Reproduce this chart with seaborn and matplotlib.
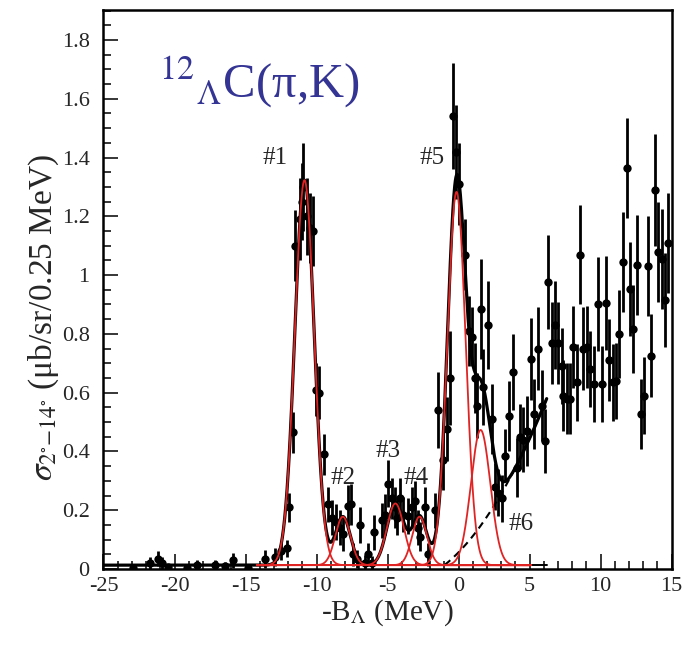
"""Hypernuclear binding-energy spectrum of 12C(pi+,K+) with its peak fit."""

from __future__ import annotations

import matplotlib

matplotlib.use("Agg")

import matplotlib.pyplot as plt
import numpy as np
import pandas as pd
import seaborn as sns
from matplotlib.ticker import FuncFormatter, MultipleLocator

# measured spectrum: -B_Lambda (MeV), cross section, error
BINDING_MEV = [
    -22.91, -21.73, -21.15, -20.91, -20.44, -19.15, -18.44, -17.15, -16.45, -15.87,
    -14.81, -13.63, -12.93, -12.50, -12.10, -11.92, -11.64, -11.52, -11.17, -11.05,
    -10.94, -10.70, -10.46, -10.27, -10.05, -9.83, -9.48, -9.18, -8.94, -8.63,
    -8.35, -8.12, -7.77, -7.60, -7.42, -7.13, -6.94, -6.59, -6.36, -6.12,
    -5.96, -5.42, -5.18, -4.95, -4.71, -4.48, -4.36, -4.13, -3.89, -3.54,
    -3.30, -3.07, -2.84, -2.72, -2.37, -2.13, -1.66, -1.43, -1.08, -0.84,
    -0.61, -0.42, -0.18, 0.05, 0.45, 0.75, 0.92, 1.15, 1.32, 1.58,
    1.74, 2.09, 2.33, 2.56, 2.80, 3.04, 3.27, 3.57, 3.81, 4.09,
    4.32, 4.56, 4.79, 5.10, 5.33, 5.57, 5.85, 6.08, 6.32, 6.60,
    6.79, 7.02, 7.26, 7.37, 7.61, 7.85, 8.08, 8.32, 8.55, 8.78,
    9.06, 9.25, 9.54, 9.80, 10.08, 10.36, 10.59, 10.85, 11.08, 11.32,
    11.56, 11.84, 12.07, 12.30, 12.54, 12.82, 13.06, 13.32, 13.55, 13.82,
    14.06, 14.30, 14.54, 14.77,
]
SIGMA = [
    0.005, 0.020, 0.035, 0.020, 0.006, 0.004, 0.015, 0.015, 0.010, 0.030,
    0.004, 0.035, 0.040, 0.060, 0.070, 0.210, 0.465, 1.100, 1.190, 1.250,
    1.300, 1.200, 1.160, 1.150, 0.610, 0.600, 0.390, 0.220, 0.175, 0.160,
    0.140, 0.120, 0.215, 0.220, 0.050, 0.033, 0.150, 0.022, 0.050, 0.020,
    0.125, 0.165, 0.185, 0.290, 0.240, 0.210, 0.175, 0.240, 0.185, 0.180,
    0.210, 0.230, 0.140, 0.110, 0.210, 0.050, 0.200, 0.540, 0.370, 0.476,
    0.650, 1.540, 1.420, 1.310, 1.070, 0.810, 0.790, 0.650, 0.556, 0.885,
    0.620, 0.830, 0.510, 0.280, 0.260, 0.240, 0.385, 0.520, 0.670, 0.345,
    0.450, 0.440, 0.470, 0.715, 0.527, 0.750, 0.556, 0.436, 0.976, 0.770,
    0.830, 0.770, 0.690, 0.590, 0.580, 0.580, 0.755, 0.635, 1.070, 0.750,
    0.755, 0.680, 0.630, 0.900, 0.630, 0.905, 0.710, 0.635, 0.640, 0.800,
    1.045, 1.365, 0.953, 0.817, 1.033, 0.527, 0.590, 1.030, 0.726, 1.290,
    1.078, 1.056, 0.914, 1.110,
]
SIGMA_ERR = [
    0.010, 0.020, 0.025, 0.020, 0.010, 0.010, 0.015, 0.015, 0.015, 0.025,
    0.010, 0.030, 0.030, 0.030, 0.030, 0.050, 0.070, 0.120, 0.140, 0.130,
    0.150, 0.130, 0.120, 0.120, 0.090, 0.090, 0.070, 0.060, 0.060, 0.060,
    0.060, 0.060, 0.070, 0.070, 0.040, 0.030, 0.060, 0.025, 0.040, 0.025,
    0.060, 0.060, 0.070, 0.080, 0.070, 0.070, 0.060, 0.070, 0.060, 0.060,
    0.070, 0.070, 0.060, 0.050, 0.070, 0.040, 0.060, 0.130, 0.100, 0.110,
    0.160, 0.180, 0.160, 0.140, 0.120, 0.120, 0.100, 0.120, 0.110, 0.170,
    0.130, 0.150, 0.120, 0.080, 0.080, 0.080, 0.090, 0.120, 0.130, 0.100,
    0.110, 0.110, 0.120, 0.140, 0.120, 0.140, 0.120, 0.110, 0.160, 0.140,
    0.150, 0.140, 0.130, 0.120, 0.120, 0.120, 0.140, 0.130, 0.170, 0.140,
    0.140, 0.130, 0.130, 0.160, 0.130, 0.160, 0.140, 0.130, 0.130, 0.150,
    0.170, 0.170, 0.160, 0.150, 0.170, 0.120, 0.130, 0.170, 0.140, 0.190,
    0.170, 0.170, 0.160, 0.170,
]

# Gaussian peak components of the fit
PEAK_LABELS = ["#1", "#2", "#3", "#4", "#5", "#6"]
PEAK_CENTERS = [-10.85, -8.15, -4.45, -2.75, -0.15, 1.55]
PEAK_HEIGHTS = [1.31, 0.165, 0.21, 0.165, 1.27, 0.46]
PEAK_WIDTHS = [0.68, 0.53, 0.60, 0.52, 0.64, 0.68]

# flat offset plus quasi-free background rising above threshold
BG_OFFSET = 0.013
BG_THRESHOLD = -1.0
BG_LINEAR = 0.0383
BG_QUADRATIC = 0.00561
FIT_RANGE = (-25.0, 6.2)
COMPONENT_RANGE = (-14.2, 5.1)

LABEL_POSITIONS = {
    "#1": (-12.93, 1.40),
    "#2": (-8.10, 0.31),
    "#3": (-4.95, 0.40),
    "#4": (-3.00, 0.31),
    "#5": (-1.87, 1.40),
    "#6": (4.39, 0.153),
}

RED = "#e02424"
TITLE_BLUE = "#343494"


def gaussian(x: np.ndarray, center: float, height: float, width: float) -> np.ndarray:
    """Evaluate one Gaussian peak component."""

    return height * np.exp(-0.5 * ((x - center) / width) ** 2)


def background(x: np.ndarray) -> np.ndarray:
    """Flat offset plus quadratic quasi-free continuum above threshold."""

    d = np.clip(x - BG_THRESHOLD, 0.0, None)
    return BG_OFFSET + BG_LINEAR * d + BG_QUADRATIC * d**2


def main() -> None:
    sns.set_theme(style="ticks")
    plt.rcParams["font.family"] = ["Liberation Serif", "DejaVu Serif"]
    plt.rcParams["mathtext.fontset"] = "stix"
    plt.rcParams["axes.unicode_minus"] = False

    fig = plt.figure(figsize=(6.84, 6.49), dpi=100)
    ax = fig.add_axes([0.1513, 0.1233, 0.8307, 0.8613])

    data = pd.DataFrame({"x": BINDING_MEV, "y": SIGMA, "err": SIGMA_ERR})
    ax.errorbar(data["x"], data["y"], yerr=data["err"], fmt="none",
                ecolor="black", elinewidth=2.0, capsize=0, zorder=2)
    sns.scatterplot(data=data, x="x", y="y", color="black", s=36,
                    linewidth=0, ax=ax, zorder=3)

    fit_x = np.linspace(FIT_RANGE[0], FIT_RANGE[1], 1500)
    total = background(fit_x)
    for c, h, w in zip(PEAK_CENTERS, PEAK_HEIGHTS, PEAK_WIDTHS):
        total = total + gaussian(fit_x, c, h, w)

    flat = pd.DataFrame({"x": [FIT_RANGE[0], FIT_RANGE[1]], "y": [BG_OFFSET, BG_OFFSET]})
    sns.lineplot(data=flat, x="x", y="y", color="black", linewidth=1.4, ax=ax, zorder=4)
    sns.lineplot(x=fit_x, y=total, color="black", linewidth=2.3, ax=ax, zorder=4)

    bg_x = fit_x[fit_x >= BG_THRESHOLD]
    ax.plot(bg_x, background(bg_x), color="black", linewidth=1.5,
            linestyle=(0, (3.5, 2.5)), zorder=4)

    comp_x = np.linspace(COMPONENT_RANGE[0], COMPONENT_RANGE[1], 1500)
    for c, h, w in zip(PEAK_CENTERS, PEAK_HEIGHTS, PEAK_WIDTHS):
        ax.plot(comp_x, BG_OFFSET + gaussian(comp_x, c, h, w), color=RED,
                linewidth=1.3, zorder=5)

    for label in PEAK_LABELS:
        lx, ly = LABEL_POSITIONS[label]
        ax.text(lx, ly, label, fontsize=18, ha="center", va="center", zorder=6)

    ax.text(-14.05, 1.655, r"${}^{12}{}_{\Lambda}$C(π,K)", fontsize=35,
            color=TITLE_BLUE, ha="center", va="center")

    ax.set_xlim(-25, 15)
    ax.set_ylim(0, 1.902)
    ax.xaxis.set_major_locator(MultipleLocator(5))
    ax.xaxis.set_minor_locator(MultipleLocator(1))
    ax.yaxis.set_major_locator(MultipleLocator(0.2))
    ax.yaxis.set_minor_locator(MultipleLocator(0.05))
    ax.yaxis.set_major_formatter(FuncFormatter(lambda v, _: f"{v:g}"))
    ax.xaxis.set_major_formatter(FuncFormatter(lambda v, _: f"{v:g}"))
    ax.tick_params(which="both", direction="in", top=False, right=False,
                   labelsize=16, width=1.3)
    ax.tick_params(axis="x", pad=6)
    ax.tick_params(axis="y", pad=10)
    ax.tick_params(which="major", length=11)
    ax.tick_params(which="minor", length=6)
    for spine in ax.spines.values():
        spine.set_linewidth(1.8)
        spine.set_color("black")

    ax.set_xlabel(r"-B$_{\Lambda}$ (MeV)", fontsize=21, labelpad=1)
    ax.set_ylabel(r"$\sigma_{2^{\circ}\mathrm{-}14^{\circ}}$ (μb/sr/0.25 MeV)",
                  fontsize=24)
    ax.yaxis.set_label_coords(-0.075, 0.45)

    fig.savefig("out.png", dpi=100)
    plt.close(fig)


if __name__ == "__main__":
    main()
